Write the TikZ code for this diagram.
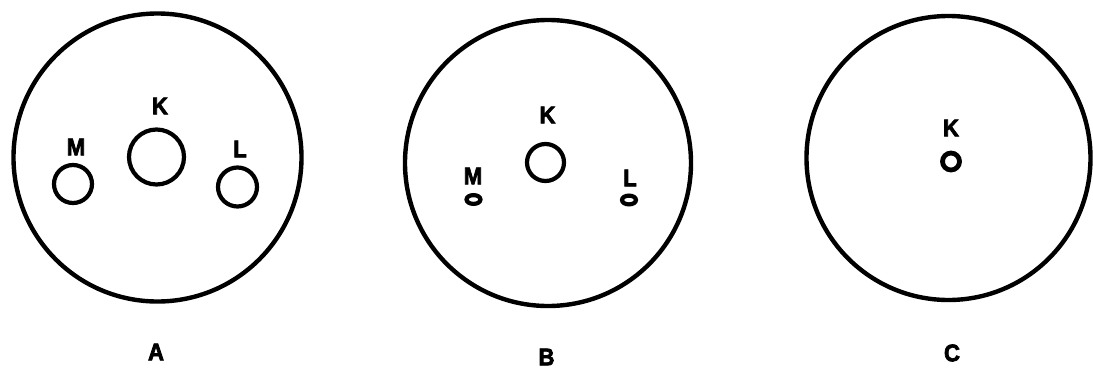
\documentclass[tikz,border=0pt]{standalone}
\usepackage{fontspec}
\setmainfont{Liberation Sans}
\newfontfamily\labfont[FakeBold=3,FakeStretch=0.92]{Liberation Sans Bold}
\begin{document}
\begin{tikzpicture}[x=1pt,y=-1pt,
  ring/.style={draw=black,line width=4.4pt},
  smallring/.style={draw=black,line width=4.2pt},
  lab/.style={inner sep=0pt,font=\fontsize{24}{24}\labfont}]
\useasboundingbox (0,0) rectangle (1093,370);
% Panel A
\draw[ring] (157.5,157.5) circle[radius=144];
\draw[smallring] (156.5,157) circle[radius=27.5];
\draw[smallring] (73,184) circle[radius=19];
\draw[smallring] (237.5,187) circle[radius=19.5];
\node[lab] (kA) at (160,106) {K};
\node[lab] (mA) at (76,147) {M};
\node[lab] (lA) at (240,149) {L};
\node[lab] (A) at (156,352) {A};
% Panel B
\draw[ring] (548,163) circle[radius=143];
\draw[smallring] (545.5,162.5) circle[radius=18.5];
\draw[smallring] (473.5,199.5) ellipse[x radius=7,y radius=4.4];
\draw[smallring] (629,200) ellipse[x radius=7,y radius=4.4];
\node[lab] (kB) at (547.5,115) {K};
\node[lab] (mB) at (473,176) {M};
\node[lab] (lB) at (630,178) {L};
\node[lab] (B) at (546.5,357) {B};
% Panel C
\draw[ring] (948.5,158) circle[radius=142];
\draw[line width=4.8pt] (951,161.5) circle[radius=8.5];
\node[lab] (kC) at (951,128) {K};
\node[lab] (C) at (952,353) {C};
\end{tikzpicture}
\end{document}
